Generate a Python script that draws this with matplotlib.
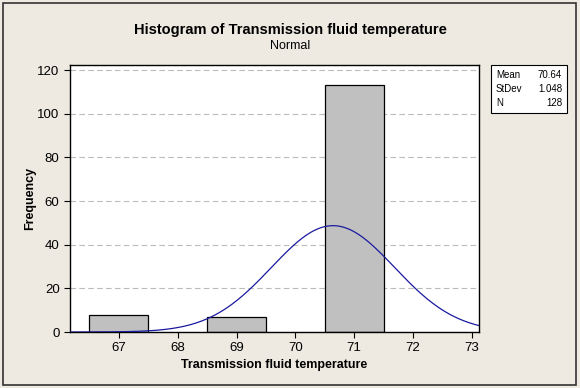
import matplotlib
matplotlib.use("Agg")
import matplotlib.pyplot as plt
import numpy as np
from matplotlib.patches import Rectangle

# histogram data
bin_centers = [67, 69, 71]
counts = [8, 7, 113]
bin_width = 1.0

# fitted normal
mean = 70.64
stdev = 1.048
n_obs = 128

xticks = [67, 68, 69, 70, 71, 72, 73]
yticks = [0, 20, 40, 60, 80, 100, 120]

bg = "#EEEAE1"
plt.rcParams["font.family"] = ["Liberation Sans", "DejaVu Sans"]

fig = plt.figure(figsize=(5.8, 3.88), dpi=100, facecolor=bg)
fig.patches.append(Rectangle((0.005, 0.008), 0.988, 0.984, transform=fig.transFigure,
                             fill=False, edgecolor="#333333", linewidth=1.2))

ax = fig.add_axes([0.1207, 0.1443, 0.705, 0.688])
ax.set_facecolor("white")

ax.bar(bin_centers, counts, width=bin_width, color="#C0C0C0",
       edgecolor="black", linewidth=0.9, zorder=2)

xs = np.linspace(66.17, 73.12, 300)
pdf = np.exp(-0.5 * ((xs - mean) / stdev) ** 2) / (stdev * np.sqrt(2 * np.pi))
ax.plot(xs, n_obs * bin_width * pdf, color="#1A1AA0", linewidth=0.9, zorder=3)

ax.set_xlim(66.17, 73.12)
ax.set_ylim(0, 122.3)
ax.set_xticks(xticks)
ax.set_yticks(yticks)
ax.tick_params(direction="out", length=4, width=0.8, labelsize=9.5, colors="black")
for s in ax.spines.values():
    s.set_linewidth(1.0)
    s.set_color("black")
ax.yaxis.grid(True, linestyle=(0, (5, 3)), color="#BBBBBB", linewidth=0.8, zorder=0)
ax.set_axisbelow(True)

ax.set_xlabel("Transmission fluid temperature", fontsize=9, fontweight="bold", labelpad=3)
ax.set_ylabel("Frequency", fontsize=9, fontweight="bold", labelpad=1)

fig.text(0.5, 0.922, "Histogram of Transmission fluid temperature",
         ha="center", va="center", fontsize=10.5, fontweight="bold")
fig.text(0.5, 0.882, "Normal", ha="center", va="center", fontsize=9)

# stats box
box = Rectangle((491 / 580, 1 - 113 / 388), 76 / 580, 48 / 388, transform=fig.transFigure,
                facecolor="white", edgecolor="black", linewidth=0.8)
fig.patches.append(box)
rows = [("Mean", f"{mean:.2f}"), ("StDev", f"{stdev:.3f}"), ("N", f"{n_obs}")]
for i, (k, v) in enumerate(rows):
    y = 1 - (75 + i * 14) / 388
    fig.text(496 / 580, y, k, ha="left", va="center", fontsize=7)
    fig.text(562 / 580, y, v, ha="right", va="center", fontsize=7)

fig.savefig("out.png", dpi=100, facecolor=bg)
